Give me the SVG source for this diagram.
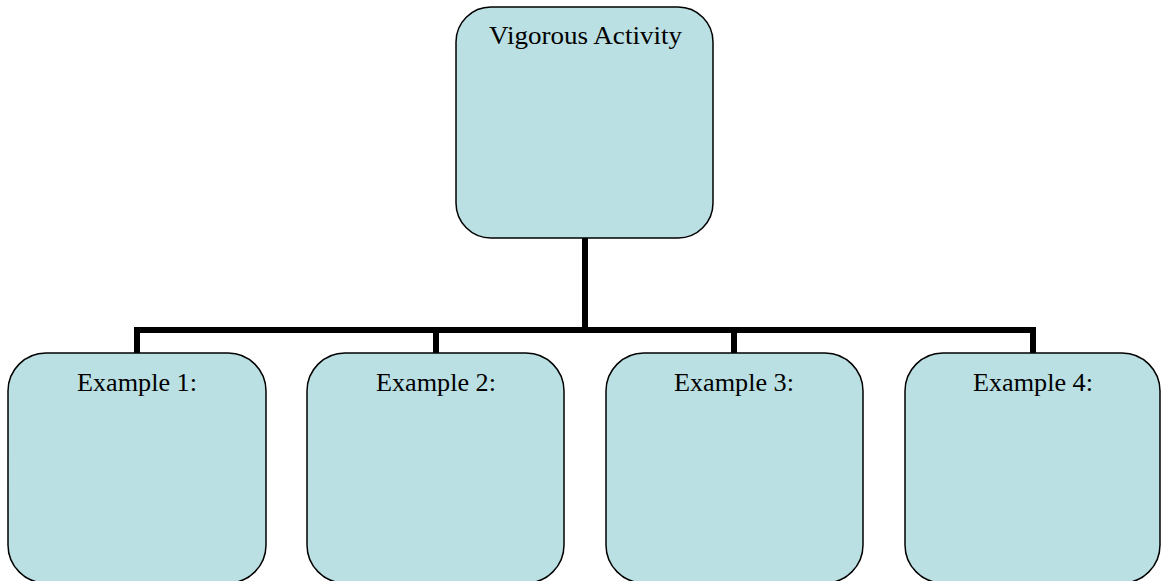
<svg xmlns="http://www.w3.org/2000/svg" width="1164" height="581" viewBox="0 0 1164 581">
<style>
.box{fill:#BBE0E3;stroke:#000;stroke-width:1.5}
.lbl{font-family:"Liberation Serif","Times New Roman",serif;font-size:24.5px;fill:#000;text-anchor:middle}
.conn{fill:none;stroke:#000;stroke-width:6;stroke-linejoin:miter}
</style>
<rect width="1164" height="581" fill="#fff"/>
<g id="connectors">
<path class="conn" d="M585 238V330"/>
<path class="conn" d="M137 353V330H1033V353"/>
<path class="conn" d="M436 353V330"/>
<path class="conn" d="M734 353V330"/>
</g>
<g id="top">
<rect class="box" x="456" y="7" width="257" height="231" rx="35"/>
<text class="lbl" x="585.5" y="43.5" textLength="193" lengthAdjust="spacingAndGlyphs">Vigorous Activity</text>
</g>
<g id="ex1">
<rect class="box" x="8" y="353" width="258" height="230" rx="38"/>
<text class="lbl" x="137" y="391" textLength="120" lengthAdjust="spacingAndGlyphs">Example 1:</text>
</g>
<g id="ex2">
<rect class="box" x="307" y="353" width="257" height="230" rx="38"/>
<text class="lbl" x="436" y="391" textLength="120" lengthAdjust="spacingAndGlyphs">Example 2:</text>
</g>
<g id="ex3">
<rect class="box" x="606" y="353" width="257" height="230" rx="38"/>
<text class="lbl" x="734" y="391" textLength="120" lengthAdjust="spacingAndGlyphs">Example 3:</text>
</g>
<g id="ex4">
<rect class="box" x="905" y="353" width="255" height="230" rx="38"/>
<text class="lbl" x="1033" y="391" textLength="120" lengthAdjust="spacingAndGlyphs">Example 4:</text>
</g>
</svg>
